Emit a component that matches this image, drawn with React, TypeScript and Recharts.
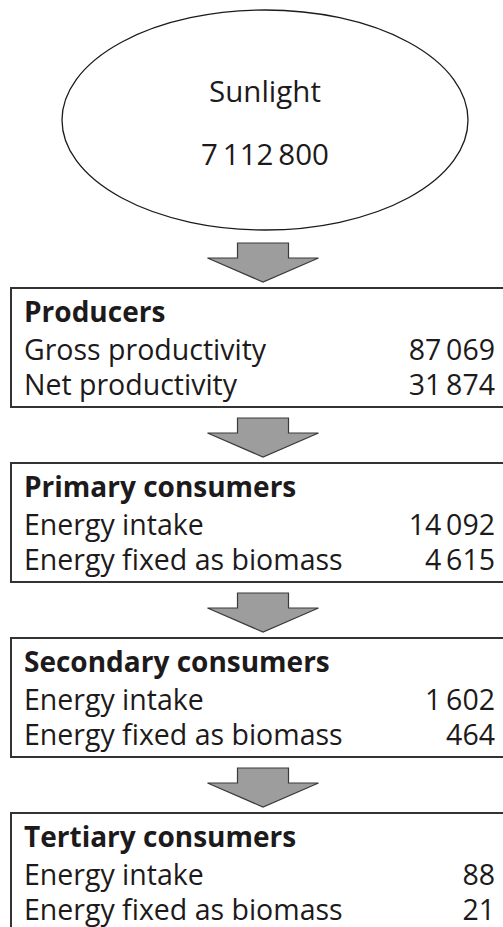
import { ComposedChart, Scatter, XAxis, YAxis } from "recharts";

// energy flow through a food chain
const sourceLabel = "Sunlight";
const sourceValue = 7112800;

const tierNames = [
  "Producers",
  "Primary consumers",
  "Secondary consumers",
  "Tertiary consumers",
];
const firstRowLabels = [
  "Gross productivity",
  "Energy intake",
  "Energy intake",
  "Energy intake",
];
const secondRowLabels = [
  "Net productivity",
  "Energy fixed as biomass",
  "Energy fixed as biomass",
  "Energy fixed as biomass",
];
const firstRowValues = [87069, 14092, 1602, 88];
const secondRowValues = [31874, 4615, 464, 21];

const W = 503;
const H = 927;
const FONT = "'Open Sans', sans-serif";
const INK = "#1d1a1b";

// layout of the diagram, in pixels of the 1:1 axes
const SUN_X = 265;
const SUN_Y = 120;
const BOX_LEFT = 11;
const BOX_TOP = 288;
const BOX_STEP = 175;
const BOX_H = 119;
const ARROW_X = 263;

// thin-space thousands grouping, like the printed figure
const fmt = (n: number) =>
  n >= 1000 ? String(n).replace(/\B(?=(\d{3})+(?!\d))/g, "\u2009") : String(n);

const sunData = [{ x: SUN_X, y: SUN_Y, label: sourceLabel, value: sourceValue }];

const tierData = tierNames.map((name, i) => ({
  x: BOX_LEFT,
  y: BOX_TOP + i * BOX_STEP,
  name,
  label1: firstRowLabels[i],
  value1: firstRowValues[i],
  label2: secondRowLabels[i],
  value2: secondRowValues[i],
}));

const arrowData = tierNames.map((_, i) => ({
  x: ARROW_X,
  y: BOX_TOP + i * BOX_STEP - 6,
}));

const textStyle = { fontVariantLigatures: "none" as const };

function SunShape(props: any) {
  const { cx, cy, payload } = props;
  return (
    <g fontFamily={FONT} fontSize={29.5} fill={INK} style={textStyle}>
      <ellipse cx={cx} cy={cy} rx={203} ry={110} fill="#fff" stroke={INK} strokeWidth={1.3} />
      <text x={cx} y={cy - 18} textAnchor="middle">
        {payload.label}
      </text>
      <text x={cx} y={cy + 45} textAnchor="middle">
        {fmt(payload.value)}
      </text>
    </g>
  );
}

function ArrowShape(props: any) {
  const { cx, cy } = props;
  const pts = [
    [cx - 25.5, cy - 39],
    [cx + 25.5, cy - 39],
    [cx + 25.5, cy - 24],
    [cx + 55.5, cy - 24],
    [cx, cy],
    [cx - 55.5, cy - 24],
    [cx - 25.5, cy - 24],
  ]
    .map((p) => p.join(","))
    .join(" ");
  return <polygon points={pts} fill="#9d9d9d" stroke="#3a3a3a" strokeWidth={1.2} />;
}

function TierShape(props: any) {
  const { cx, cy, payload } = props;
  const tx = cx + 13;
  const right = 495;
  return (
    <g fontFamily={FONT} fontSize={28.5} fill={INK} style={textStyle}>
      <rect x={cx} y={cy} width={W} height={BOX_H} fill="#fff" stroke="#333" strokeWidth={2} />
      <text x={tx} y={cy + 34} fontWeight={700} fontSize={28}>
        {payload.name}
      </text>
      <text x={tx} y={cy + 72}>{payload.label1}</text>
      <text x={right} y={cy + 72} textAnchor="end">
        {fmt(payload.value1)}
      </text>
      <text x={tx} y={cy + 107}>{payload.label2}</text>
      <text x={right} y={cy + 107} textAnchor="end">
        {fmt(payload.value2)}
      </text>
    </g>
  );
}

export default function App() {
  return (
    <div
      style={{
        position: "absolute",
        left: 0,
        top: 0,
        width: W,
        height: H,
        overflow: "hidden",
        background: "#fff",
      }}
    >
      <ComposedChart width={W} height={H} margin={{ top: 0, right: 0, bottom: 0, left: 0 }}>
        <XAxis type="number" dataKey="x" domain={[0, W]} hide allowDataOverflow />
        <YAxis type="number" dataKey="y" domain={[0, H]} reversed hide allowDataOverflow />
        <Scatter data={sunData} shape={<SunShape />} isAnimationActive={false} />
        <Scatter data={tierData} shape={<TierShape />} isAnimationActive={false} />
        <Scatter data={arrowData} shape={<ArrowShape />} isAnimationActive={false} />
      </ComposedChart>
    </div>
  );
}
